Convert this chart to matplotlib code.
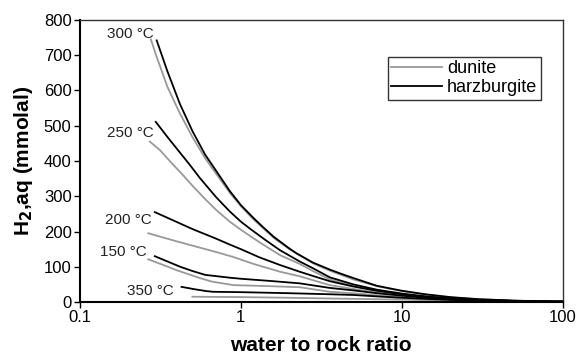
import numpy as np
import matplotlib.pyplot as plt

plt.rcParams["font.family"] = ["Liberation Sans", "DejaVu Sans"]

# water/rock ratio and H2,aq (mmolal), per temperature
temps = ["300 °C", "250 °C", "200 °C", "150 °C", "350 °C"]

dun_wr = {
    "300 °C": [0.276, 0.3, 0.35, 0.418, 0.5, 0.6, 0.707, 0.853, 1.0, 1.2, 1.6, 2.0, 2.8, 3.57, 5, 7, 10, 14, 20, 30, 50, 100],
    "250 °C": [0.272, 0.314, 0.37, 0.437, 0.5, 0.6, 0.707, 0.853, 1.0, 1.3, 1.75, 2.32, 2.8, 3.57, 5, 7, 10, 14, 20, 30, 50, 100],
    "200 °C": [0.266, 0.4, 0.5, 0.7, 0.894, 1.2, 1.75, 2.32, 2.8, 3.57, 5, 7, 10, 14, 20, 30, 50, 100],
    "150 °C": [0.266, 0.33, 0.4, 0.556, 0.66, 0.894, 1.5, 2.32, 3.57, 5, 7, 10, 14, 20, 30, 50, 100],
    "350 °C": [0.5, 1.0, 2.0, 3.57, 5, 10, 20, 50, 100],
}
dun_h2 = {
    "300 °C": [745, 695, 610, 535, 468, 408, 362, 310, 272, 234, 182, 150, 110, 89, 64, 45, 31, 21, 13, 8, 4, 1],
    "250 °C": [455, 431, 395, 360, 330, 292, 260, 228, 205, 170, 133, 108, 88, 64, 46, 32, 22, 15, 10, 6, 3, 1],
    "200 °C": [195, 172, 160, 142, 128, 108, 86, 73, 62, 48, 37, 27, 19, 13, 8, 5, 2, 1],
    "150 °C": [121, 105, 90, 68, 58, 48, 45, 42, 29, 25, 19, 14, 9, 6, 4, 2, 1],
    "350 °C": [15, 14, 12, 10, 9, 7, 4, 1.5, 1],
}

hz_wr = {
    "300 °C": [0.30, 0.35, 0.418, 0.5, 0.6, 0.707, 0.853, 1.0, 1.2, 1.37, 1.6, 2.0, 2.22, 2.8, 3.57, 4.2, 5, 7, 10, 14, 20, 30, 50, 70, 100],
    "250 °C": [0.296, 0.35, 0.4, 0.48, 0.556, 0.7, 0.853, 1.0, 1.14, 1.4, 1.75, 2.32, 2.8, 3.57, 5, 7, 10, 14, 20, 30, 50, 100],
    "200 °C": [0.292, 0.4, 0.5, 0.7, 0.853, 1.0, 1.3, 1.75, 2.32, 2.8, 3.57, 5, 7, 10, 14, 20, 30, 50, 100],
    "150 °C": [0.292, 0.35, 0.42, 0.5, 0.6, 0.853, 1.0, 1.5, 2.32, 3.57, 5, 7, 10, 14, 20, 30, 50, 100],
    "350 °C": [0.428, 0.52, 0.61, 0.673, 1.0, 2.0, 3.57, 5, 7, 10, 14, 20, 30, 50, 100],
}
hz_h2 = {
    "300 °C": [742, 654, 562, 485, 418, 370, 315, 275, 238, 213, 185, 152, 138, 112, 92, 80, 68, 46, 32, 22, 14, 8, 4, 2, 1],
    "250 °C": [511, 468, 435, 390, 352, 298, 257, 228, 208, 178, 147, 115, 96, 70, 50, 35, 24, 16, 10, 6, 3, 1],
    "200 °C": [255, 227, 207, 180, 163, 150, 127, 105, 86, 74, 59, 44, 32, 22, 15, 10, 6, 3, 1],
    "150 °C": [130, 115, 100, 88, 77, 69, 66, 60, 53, 40, 33, 25, 18, 12, 8, 5, 2, 1],
    "350 °C": [43, 36, 31, 29, 28, 25, 22, 20, 16, 12, 9, 6, 4, 2, 1],
}

# label anchor (right end of text) in data coords
label_pos = {
    "300 °C": (0.288, 760),
    "250 °C": (0.288, 479),
    "200 °C": (0.280, 233),
    "150 °C": (0.261, 142),
    "350 °C": (0.384, 32),
}

fig = plt.figure(figsize=(5.79, 3.57), dpi=100)
ax = fig.add_axes([0.138, 0.154, 0.834, 0.79])

for t in temps:
    ax.plot(dun_wr[t], dun_h2[t], color="#999999", lw=1.3,
            label="dunite" if t == temps[0] else None)
for t in temps:
    ax.plot(hz_wr[t], hz_h2[t], color="black", lw=1.3,
            label="harzburgite" if t == temps[0] else None)

for t in temps:
    x, y = label_pos[t]
    ax.text(x, y, t, ha="right", va="center", fontsize=11, color="#222222")

ax.set_xscale("log")
ax.set_xlim(0.1, 100)
ax.set_ylim(0, 800)
ax.set_xticks([0.1, 1, 10, 100])
ax.set_xticklabels(["0.1", "1", "10", "100"])
ax.xaxis.set_minor_locator(plt.NullLocator())
ax.set_yticks(np.arange(0, 801, 100))
ax.tick_params(axis="both", direction="out", length=4, width=1, labelsize=12, pad=2)

for s in ["left", "bottom"]:
    ax.spines[s].set_linewidth(1.5)
for s in ["top", "right"]:
    ax.spines[s].set_linewidth(1.0)
    ax.spines[s].set_color("#333333")

ax.set_xlabel("water to rock ratio", fontsize=15, fontweight="bold", labelpad=8)
ax.set_ylabel("H$_\\mathbf{2}$,aq (mmolal)", fontsize=15, fontweight="bold", labelpad=6)

leg = ax.legend(loc="upper right", bbox_to_anchor=(0.955, 0.87), fontsize=13,
                frameon=True, fancybox=False, handlelength=2.8, handletextpad=0.3,
                borderpad=0.2, labelspacing=0.1, borderaxespad=0)
leg.get_frame().set_edgecolor("black")
leg.get_frame().set_linewidth(1.0)

plt.savefig("out.png", dpi=100)
